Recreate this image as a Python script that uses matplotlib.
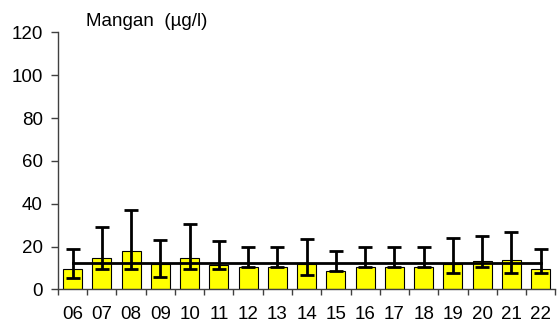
import matplotlib
matplotlib.use("Agg")
import matplotlib.pyplot as plt
import numpy as np

categories = ["06", "07", "08", "09", "10", "11", "12", "13", "14", "15", "16", "17", "18", "19", "20", "21", "22"]
means = [9.6, 14.5, 18.1, 11.7, 14.5, 11.3, 10.3, 10.3, 11.7, 8.8, 10.3, 10.3, 10.3, 11.7, 13.1, 13.8, 9.4]
err_high = [18.9, 29.3, 37.3, 23.3, 30.6, 22.5, 19.8, 19.8, 23.4, 18.1, 19.8, 19.8, 19.8, 24.2, 25.1, 26.8, 18.9]
err_low = [5.2, 9.4, 9.4, 6.0, 9.4, 9.4, 10.3, 10.3, 6.8, 8.8, 10.3, 10.3, 10.3, 7.7, 10.3, 7.7, 7.5]
ref_level = 12.4
title = "Mangan  (µg/l)"

plt.rcParams['font.family'] = ['Liberation Sans', 'DejaVu Sans']

fig = plt.figure(figsize=(5.57, 3.24), dpi=100)
ax = fig.add_axes([0.104, 0.1065, 0.893, 0.7938])

x = np.arange(len(categories))
m = np.array(means)
yerr = np.vstack([m - np.array(err_low), np.array(err_high) - m])
ax.bar(x, m, width=0.65, color="#FFFF00", edgecolor="black", linewidth=0.8, zorder=2)
ax.errorbar(x, m, yerr=yerr, fmt="none", ecolor="black", elinewidth=2, capsize=5, capthick=2, zorder=3)
ax.plot([x[0], x[-1]], [ref_level, ref_level], color="black", linewidth=2, zorder=4)

ax.set_xlim(-0.5, len(categories) - 0.5)
ax.set_ylim(0, 120)
ax.set_yticks([0, 20, 40, 60, 80, 100, 120])
ax.set_xticks(x)
ax.set_xticklabels(categories)
ax.set_xticks(np.arange(-0.5, len(categories), 1.0), minor=True)
ax.tick_params(axis="x", which="major", length=0, labelsize=13.5, pad=12)
ax.tick_params(axis="x", which="minor", length=4, width=1, direction="out", color="#404040")
ax.tick_params(axis="y", length=5, width=1, labelsize=13.5, direction="out", pad=6, color="#404040")
for s in ["top", "right"]:
    ax.spines[s].set_visible(False)
ax.spines["left"].set_linewidth(1)
ax.spines["bottom"].set_linewidth(1)
ax.spines["left"].set_color("#404040")
ax.spines["bottom"].set_color("#404040")

fig.text(0.155, 0.933, title, fontsize=13.5, ha="left", va="center")

fig.savefig("out.png", dpi=100)
